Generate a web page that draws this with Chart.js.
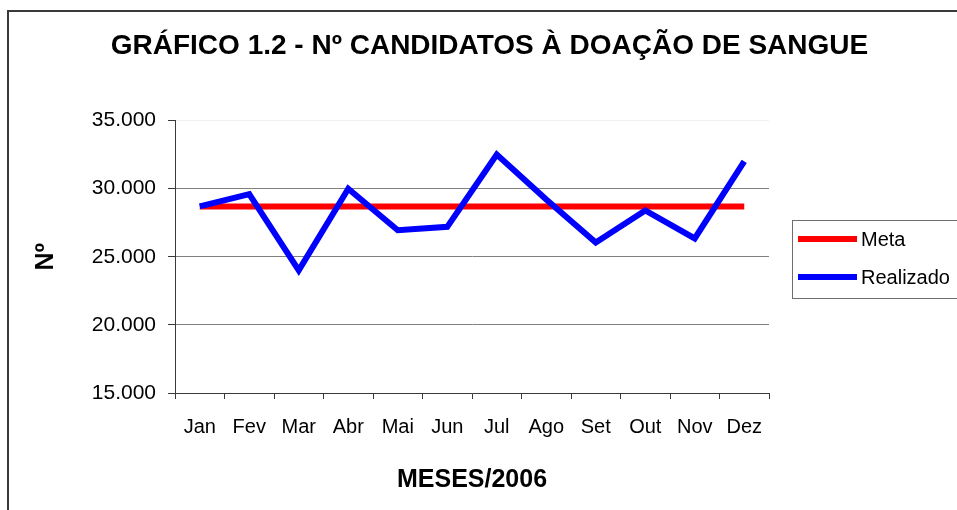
<!DOCTYPE html>
<html>
<head>
<meta charset="utf-8">
<script src="https://cdn.jsdelivr.net/npm/chart.js@4"></script>
<style>
    body { margin: 0; background: #ffffff; overflow: hidden; }
    #chart { display: block; }
</style>
</head>
<body>
<canvas id="chart" width="957" height="510"></canvas>
<script>
const months = ['Jan', 'Fev', 'Mar', 'Abr', 'Mai', 'Jun', 'Jul', 'Ago', 'Set', 'Out', 'Nov', 'Dez'];
const metaValues = [28700, 28700, 28700, 28700, 28700, 28700, 28700, 28700, 28700, 28700, 28700, 28700];
const realizadoValues = [28700, 29600, 24000, 30000, 26950, 27200, 32500, 29200, 26050, 28400, 26350, 32000];
const yTicks = [15000, 20000, 25000, 30000, 35000];

const FONT = "'Liberation Sans', Arial, sans-serif";


function formatThousands(value) {
    return String(value).replace(/\B(?=(\d{3})+(?!\d))/g, '.');
}


// white page and the outer frame of the chart object
const framePlugin = {
    id: 'frame',
    beforeDraw(chart) {
        const ctx = chart.ctx;
        ctx.save();
        ctx.fillStyle = '#ffffff';
        ctx.fillRect(0, 0, chart.width, chart.height);
        ctx.strokeStyle = '#3a3a3a';
        ctx.lineWidth = 2;
        ctx.strokeRect(8, 11, chart.width + 20, chart.height + 20);
        ctx.restore();
    }
};


// boxed legend on the right, built from the datasets
const boxLegendPlugin = {
    id: 'boxLegend',
    afterDraw(chart) {
        const ctx = chart.ctx;
        const left = 792.5;
        const top = 220.5;
        const rowGap = 38;
        const firstRow = 239;

        ctx.save();
        ctx.strokeStyle = '#6e6e6e';
        ctx.lineWidth = 1;
        ctx.strokeRect(left, top, chart.width - left + 10, 78);

        chart.data.datasets.forEach((ds, i) => {
            const y = firstRow + i * rowGap;
            ctx.fillStyle = ds.borderColor;
            ctx.fillRect(798, y - 3, 59, 6);
            ctx.fillStyle = '#000000';
            ctx.font = '20px ' + FONT;
            ctx.textBaseline = 'middle';
            ctx.textAlign = 'left';
            ctx.fillText(ds.label, 861, y + 1);
        });
        ctx.restore();
    }
};


const ctx = document.getElementById('chart').getContext('2d');

new Chart(ctx, {
    type: 'line',
    data: {
        labels: months,
        datasets: [
            {
                label: 'Meta',
                data: metaValues,
                borderColor: '#ff0000',
                backgroundColor: '#ff0000',
                borderWidth: 6,
                pointRadius: 0,
                tension: 0,
                order: 1
            },
            {
                label: 'Realizado',
                data: realizadoValues,
                borderColor: '#0000ff',
                backgroundColor: '#0000ff',
                borderWidth: 6,
                pointRadius: 0,
                tension: 0,
                order: 0
            }
        ]
    },
    options: {
        responsive: false,
        animation: false,
        layout: {
            padding: { left: 22, right: 0, top: 0, bottom: 0 }
        },
        plugins: {
            legend: { display: false },
            tooltip: { enabled: false },
            title: {
                display: true,
                text: 'GRÁFICO 1.2 - Nº CANDIDATOS À DOAÇÃO DE SANGUE',
                color: '#000000',
                font: { family: FONT, size: 28, weight: 'bold' },
                padding: { top: 29, bottom: 58 }
            }
        },
        scales: {
            x: {
                offset: true,
                grid: {
                    offset: true,
                    drawOnChartArea: false,
                    drawTicks: true,
                    tickLength: 6,
                    tickColor: '#3a3a3a'
                },
                border: { display: true, color: '#3a3a3a', width: 1 },
                ticks: {
                    color: '#000000',
                    font: { family: FONT, size: 20 },
                    padding: 16,
                    maxRotation: 0,
                    autoSkip: false
                },
                title: {
                    display: true,
                    text: 'MESES/2006',
                    color: '#000000',
                    font: { family: FONT, size: 25, weight: 'bold' },
                    padding: { top: 0, bottom: 15 }
                },
                afterFit(scale) {
                    scale.height = 117;
                }
            },
            y: {
                min: 15000,
                max: 35000,
                afterBuildTicks(scale) {
                    scale.ticks = yTicks.map((v) => ({ value: v }));
                },
                grid: {
                    color: (c) => (c.tick && c.tick.value === 35000 ? '#f0f0f0' : '#808080'),
                    tickColor: '#3a3a3a',
                    tickLength: 7,
                    lineWidth: 1
                },
                border: { display: true, color: '#3a3a3a', width: 1 },
                ticks: {
                    color: '#000000',
                    font: { family: FONT, size: 21 },
                    padding: 12,
                    callback: (value) => formatThousands(value)
                },
                title: {
                    display: true,
                    text: 'Nº',
                    color: '#000000',
                    font: { family: FONT, size: 25, weight: 'bold' },
                    padding: { top: 9, bottom: 0 }
                },
                afterFit(scale) {
                    scale.width = 153;
                }
            },
            // empty right-hand box that keeps room for the legend
            legendSpace: {
                type: 'linear',
                position: 'right',
                display: true,
                grid: { display: false },
                ticks: { display: false },
                border: { display: false },
                afterFit(scale) {
                    scale.width = 188;
                }
            }
        }
    },
    plugins: [framePlugin, boxLegendPlugin]
});
</script>
</body>
</html>
